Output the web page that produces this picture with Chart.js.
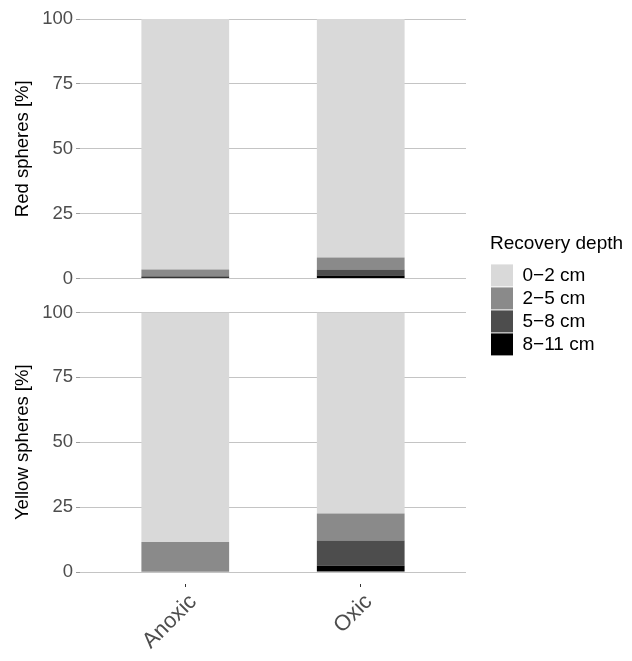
<!DOCTYPE html>
<html>
<head>
<meta charset="utf-8">
<script src="https://cdn.jsdelivr.net/npm/chart.js@4"></script>
<style>
  html, body { margin: 0; padding: 0; background: #fff; }
  #wrap { width: 632px; height: 661px; }
</style>
</head>
<body>
<div id="wrap"><canvas id="c"></canvas></div>
<script>
// categories on the x axis
const categories = ['Anoxic', 'Oxic'];
// depth classes, bottom of the stack first
const depths = ['8\u221211 cm', '5\u22128 cm', '2\u22125 cm', '0\u22122 cm'];
const depthColors = ['#000000', '#4d4d4d', '#8a8a8a', '#d9d9d9'];

// Red spheres [%], per depth class, [Anoxic, Oxic]
const red_8_11 = [0.5, 1.2];
const red_5_8 = [0.4, 2.3];
const red_2_5 = [2.6, 4.6];
const red_0_2 = [96.5, 91.9];

// Yellow spheres [%]
const yel_8_11 = [0.3, 2.4];
const yel_5_8 = [0.0, 9.7];
const yel_2_5 = [11.3, 10.4];
const yel_0_2 = [88.4, 77.5];

const yTicks = [0, 25, 50, 75, 100];

const FONT = "'Liberation Sans', Arial, Helvetica, sans-serif";
const redSeries = [red_8_11, red_5_8, red_2_5, red_0_2];
const yelSeries = [yel_8_11, yel_5_8, yel_2_5, yel_0_2];

function toPoints(arr) {
    return arr.map((v, i) => ({ x: i + 1, y: v }));
}

const datasets = [];
redSeries.forEach((s, i) => {
    datasets.push({ label: depths[i], data: toPoints(s), backgroundColor: depthColors[i], yAxisID: 'yTop', panel: 'top' });
});
yelSeries.forEach((s, i) => {
    datasets.push({ label: depths[i], data: toPoints(s), backgroundColor: depthColors[i], yAxisID: 'yBot', panel: 'bot' });
});

function panelAxis(title, weight) {
    return {
        type: 'linear',
        position: 'left',
        stack: 'panels',
        stackWeight: weight,
        stacked: true,
        min: 0,
        max: 100,
        afterBuildTicks: (ax) => { ax.ticks = yTicks.map(v => ({ value: v })); },
        afterFit: (ax) => { ax.width = 80; },
        ticks: { color: '#4d4d4d', font: { family: FONT, size: 18.5 }, padding: 3 },
        grid: { color: '#c4c4c4', lineWidth: 1, tickLength: 4, tickColor: '#9a9a9a' },
        border: { display: false },
        title: { display: true, text: title, color: '#000', font: { family: FONT, size: 18.5 }, padding: { top: 12, bottom: 0 } }
    };
}

// the legend box is as wide as its items; keep room for the title
const legendMinWidth = {
    id: 'legendMinWidth',
    afterInit(chart) {
        const lg = chart.legend;
        if (!lg) return;
        const fit = lg.fit.bind(lg);
        lg.fit = function () {
            fit();
            this.width = Math.max(this.width, 138);
        };
    }
};

new Chart(document.getElementById('c'), {
    type: 'bar',
    data: { datasets },
    plugins: [legendMinWidth],
    options: {
        responsive: true,
        maintainAspectRatio: false,
        animation: false,
        categoryPercentage: 1,
        barPercentage: 0.5,
        layout: { padding: { top: 19, left: 0, right: 4, bottom: 0 } },
        scales: {
            x: {
                type: 'linear',
                stacked: true,
                offset: false,
                min: 0.4,
                max: 2.6,
                afterBuildTicks: (ax) => { ax.ticks = categories.map((c, i) => ({ value: i + 1 })); },
                afterFit: (ax) => { ax.height = 89; },
                ticks: {
                    autoSkip: false,
                    maxRotation: 45,
                    minRotation: 45,
                    padding: 2,
                    labelOffset: 8,
                    color: '#4d4d4d',
                    font: { family: FONT, size: 22 },
                    callback: (v) => categories[v - 1]
                },
                grid: {
                    offset: false,
                    drawOnChartArea: false,
                    tickLength: 15,
                    tickColor: '#333333',
                    tickBorderDash: [3, 12],
                    tickBorderDashOffset: 3
                },
                border: { display: false }
            },
            // scales on the left are stacked last-defined on top
            yBot: panelAxis('Yellow spheres [%]', 260),
            yGap: {
                type: 'linear',
                position: 'left',
                stack: 'panels',
                stackWeight: 34,
                ticks: { display: false },
                grid: { display: false },
                border: { display: false }
            },
            yTop: panelAxis('Red spheres [%]', 260),
            // blank strip between plot and legend
            spacer: {
                type: 'linear',
                position: 'right',
                afterFit: (ax) => { ax.width = 24; },
                ticks: { display: false },
                grid: { display: false },
                border: { display: false }
            }
        },
        plugins: {
            tooltip: { enabled: false },
            legend: {
                position: 'right',
                fullSize: false,
                reverse: true,
                maxWidth: 200,
                title: { display: true, text: 'Recovery depth', color: '#000', font: { family: FONT, size: 19 }, position: 'start', padding: { top: 0, bottom: 6 } },
                labels: {
                    filter: (item, data) => data.datasets[item.datasetIndex].panel === 'top',
                    boxWidth: 22,
                    boxHeight: 22,
                    padding: 1,
                    color: '#000',
                    font: { family: FONT, size: 19 }
                }
            }
        }
    }
});
</script>
</body>
</html>
